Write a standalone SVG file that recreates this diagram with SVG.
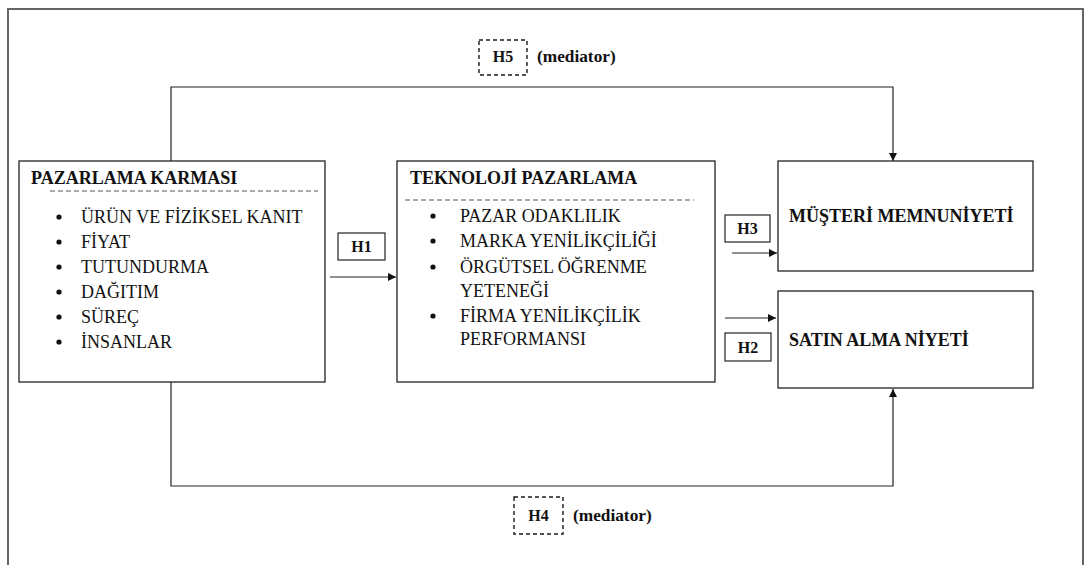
<svg xmlns="http://www.w3.org/2000/svg" width="1086" height="565" viewBox="0 0 1086 565">
<style>
.box{fill:#fff;stroke:#222;stroke-width:1.3}
.hbox{fill:#fff;stroke:#222;stroke-width:1.2}
.dbox{fill:none;stroke:#1a1a1a;stroke-width:1.4;stroke-dasharray:4 3}
.conn{fill:none;stroke:#222;stroke-width:1.2}
.sep{stroke:#555;stroke-width:1.2;stroke-dasharray:5 3}
text{font-family:"Liberation Serif","Times New Roman",Times,"DejaVu Serif",serif;fill:#111}
.t{font-size:18px}
.tb{font-size:18px;font-weight:bold}
.h{font-size:16px;font-weight:bold}
.m{font-size:17.3px;font-weight:bold}
.dot{fill:#111}
</style>
<defs>
<marker id="arr" viewBox="0 0 10 10" refX="10" refY="5" markerWidth="8" markerHeight="8" markerUnits="userSpaceOnUse" orient="auto">
<path d="M0,0 L10,5 L0,10 z" fill="#111"/>
</marker>
</defs>
<rect width="1086" height="565" fill="#fff"/>
<path d="M8,570 V9 H1083 V570" fill="none" stroke="#666" stroke-width="2"/>

<g id="connectors">
<path class="conn" d="M171,161 V87 H893 V161" marker-end="url(#arr)"/>
<path class="conn" d="M171,382 V486 H893 V389" marker-end="url(#arr)"/>
<line class="conn" x1="330" y1="277" x2="396" y2="277" marker-end="url(#arr)"/>
<line class="conn" x1="732" y1="253" x2="777" y2="253" marker-end="url(#arr)"/>
<line class="conn" x1="725" y1="318" x2="776" y2="318" marker-end="url(#arr)"/>
</g>

<g id="h5">
<rect class="dbox" x="479" y="40" width="48" height="35"/>
<text class="h" x="503" y="62" text-anchor="middle">H5</text>
<text class="m" x="537" y="62">(mediator)</text>
</g>

<g id="h4">
<rect class="dbox" x="514" y="497" width="49" height="37"/>
<text class="h" x="538.5" y="521" text-anchor="middle">H4</text>
<text class="m" x="573" y="521">(mediator)</text>
</g>

<g id="pazarlama">
<rect class="box" x="19" y="161" width="306" height="221"/>
<text class="tb" x="31" y="184">PAZARLAMA KARMASI</text>
<line class="sep" x1="50" y1="191" x2="318" y2="191"/>
<circle class="dot" cx="59" cy="217" r="2.6"/>
<circle class="dot" cx="59" cy="242" r="2.6"/>
<circle class="dot" cx="59" cy="267" r="2.6"/>
<circle class="dot" cx="59" cy="292" r="2.6"/>
<circle class="dot" cx="59" cy="317" r="2.6"/>
<circle class="dot" cx="59" cy="342" r="2.6"/>
<text class="t" x="81" y="223">ÜRÜN VE FİZİKSEL KANIT</text>
<text class="t" x="81" y="248">FİYAT</text>
<text class="t" x="81" y="273">TUTUNDURMA</text>
<text class="t" x="81" y="298">DAĞITIM</text>
<text class="t" x="81" y="323">SÜREÇ</text>
<text class="t" x="81" y="348">İNSANLAR</text>
</g>

<g id="h1">
<rect class="hbox" x="338" y="233" width="47" height="27"/>
<text class="h" x="361.5" y="252" text-anchor="middle">H1</text>
</g>

<g id="teknoloji">
<rect class="box" x="397" y="161" width="318" height="221"/>
<text class="tb" x="410" y="184">TEKNOLOJİ PAZARLAMA</text>
<line class="sep" x1="405" y1="200" x2="694" y2="200"/>
<circle class="dot" cx="433" cy="216" r="2.6"/>
<circle class="dot" cx="433" cy="241" r="2.6"/>
<circle class="dot" cx="433" cy="267" r="2.6"/>
<circle class="dot" cx="433" cy="316" r="2.6"/>
<text class="t" x="460" y="222">PAZAR ODAKLILIK</text>
<text class="t" x="460" y="247">MARKA YENİLİKÇİLİĞİ</text>
<text class="t" x="460" y="273">ÖRGÜTSEL ÖĞRENME</text>
<text class="t" x="460" y="297">YETENEĞİ</text>
<text class="t" x="460" y="322">FİRMA YENİLİKÇİLİK</text>
<text class="t" x="460" y="345">PERFORMANSI</text>
</g>

<g id="h3">
<rect class="hbox" x="725" y="215" width="45" height="27"/>
<text class="h" x="747.5" y="234" text-anchor="middle">H3</text>
</g>

<g id="h2">
<rect class="hbox" x="725" y="333" width="46" height="28"/>
<text class="h" x="748" y="353" text-anchor="middle">H2</text>
</g>

<g id="musteri">
<rect class="box" x="778" y="161" width="255" height="110"/>
<text class="tb" x="789" y="222">MÜŞTERİ MEMNUNİYETİ</text>
</g>

<g id="satin">
<rect class="box" x="778" y="291" width="255" height="97"/>
<text class="tb" x="789" y="346">SATIN ALMA NİYETİ</text>
</g>
</svg>
